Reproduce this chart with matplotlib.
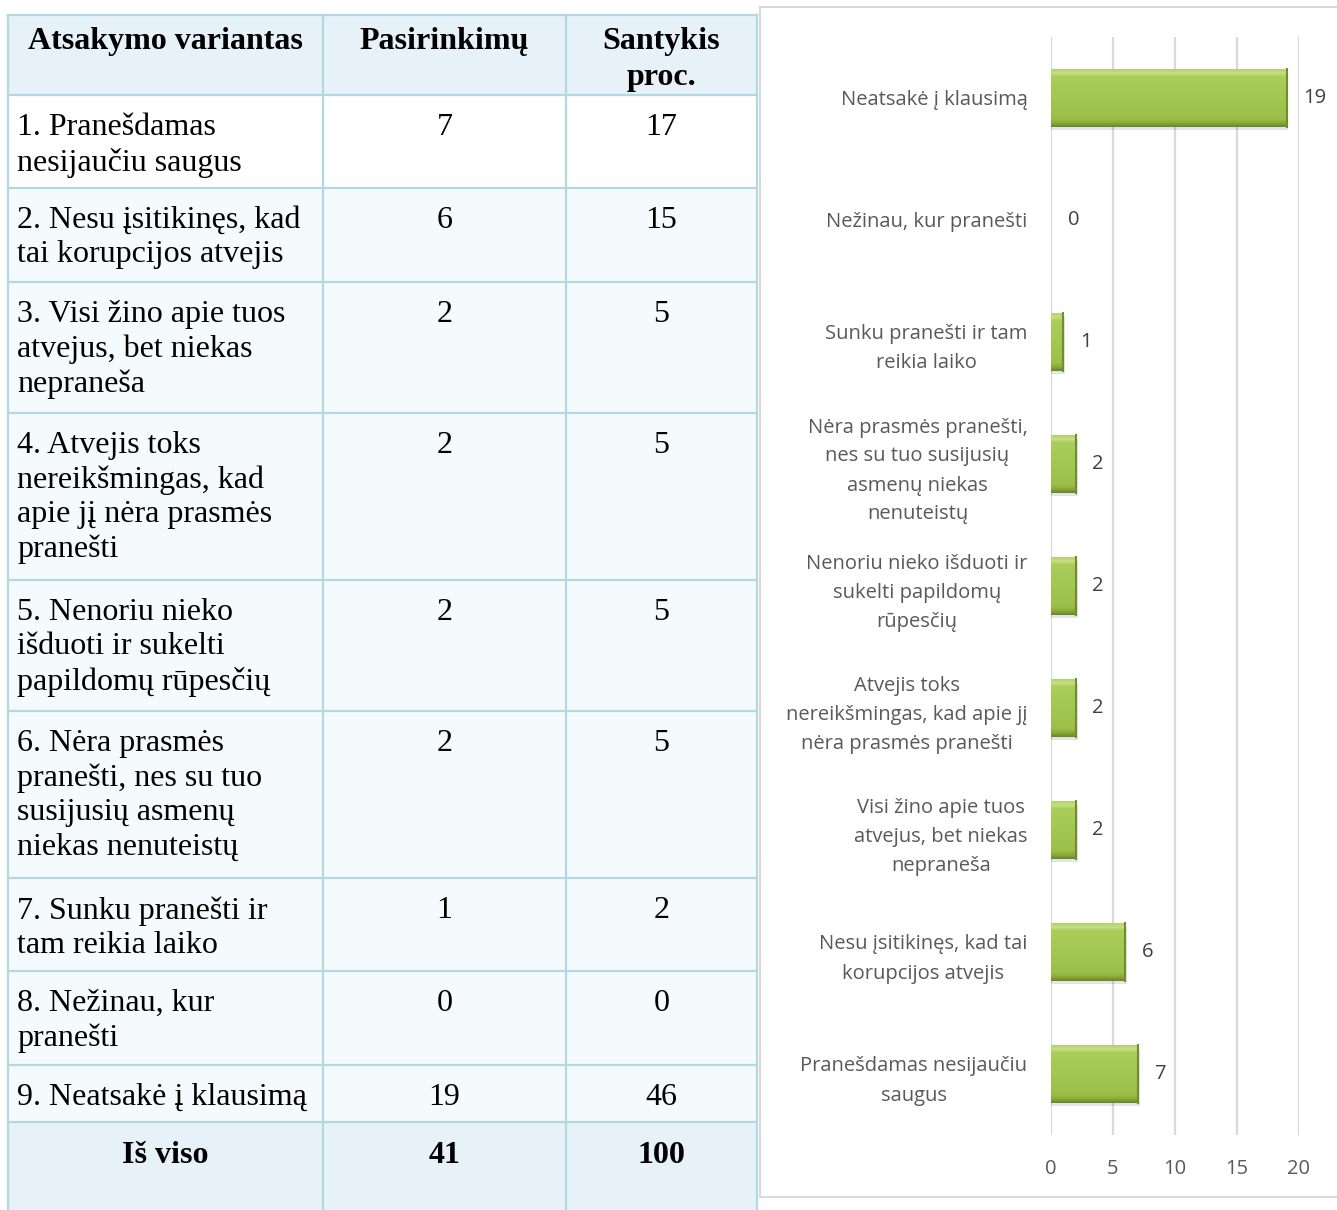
import matplotlib
matplotlib.use("Agg")
from matplotlib import pyplot as plt
from matplotlib.patches import Rectangle
import numpy as np

# duomenys
variantai = ["1. Pranešdamas\nnesijaučiu saugus",
             "2. Nesu įsitikinęs, kad\ntai korupcijos atvejis",
             "3. Visi žino apie tuos\natvejus, bet niekas\nnepraneša",
             "4. Atvejis toks\nnereikšmingas, kad\napie jį nėra prasmės\npranešti",
             "5. Nenoriu nieko\nišduoti ir sukelti\npapildomų rūpesčių",
             "6. Nėra prasmės\npranešti, nes su tuo\nsusijusių asmenų\nniekas nenuteistų",
             "7. Sunku pranešti ir\ntam reikia laiko",
             "8. Nežinau, kur\npranešti",
             "9. Neatsakė į klausimą"]
pasirinkimu = [7, 6, 2, 2, 2, 2, 1, 0, 19]
procentai = [17, 15, 5, 5, 5, 5, 2, 0, 46]
is_viso = ["Iš viso", "41", "100"]
antrastes = ["Atsakymo variantas", "Pasirinkimų", "Santykis\nproc."]

grafiko_etiketes = ["Pranešdamas nesijaučiu\nsaugus",
                    "Nesu įsitikinęs, kad tai\nkorupcijos atvejis",
                    "Visi žino apie tuos\natvejus, bet niekas\nnepraneša",
                    "Atvejis toks\nnereikšmingas, kad apie jį\nnėra prasmės pranešti",
                    "Nenoriu nieko išduoti ir\nsukelti papildomų\nrūpesčių",
                    "Nėra prasmės pranešti,\nnes su tuo susijusių\nasmenų niekas\nnenuteistų",
                    "Sunku pranešti ir tam\nreikia laiko",
                    "Nežinau, kur pranešti",
                    "Neatsakė į klausimą"]
x_ticks = [0, 5, 10, 15, 20]

W, H = 1337, 1210
fig = plt.figure(figsize=(W / 100, H / 100), dpi=100)

# --- lentelė (pikselių koordinatės) ---
tab = fig.add_axes([0, 0, 1, 1])
tab.set_xlim(0, W)
tab.set_ylim(H, 0)
tab.axis("off")

col_x = [8, 323, 566, 757]
row_y = [15, 95, 188, 282, 413, 580, 711, 878, 971, 1065, 1122, 1215]
border = "#B4D8E2"
head_bg = "#E6F2F7"
tint = "#F5FAFC"
serif = "Liberation Serif"
fs = 23
ls = 1.24

for i in range(len(row_y) - 1):
    if i == 0 or i == len(row_y) - 2:
        bg = head_bg
    elif i == 1:
        bg = "white"
    else:
        bg = tint
    tab.add_patch(Rectangle((col_x[0], row_y[i]), col_x[-1] - col_x[0], row_y[i + 1] - row_y[i],
                            facecolor=bg, edgecolor="none"))
for y in row_y:
    tab.plot([col_x[0], col_x[-1]], [y, y], color=border, lw=1.6)
for x in col_x:
    tab.plot([x, x], [row_y[0], row_y[-1]], color=border, lw=1.6)

centers = [(col_x[j] + col_x[j + 1]) / 2 for j in range(3)]

# antraštė
for j, t in enumerate(antrastes):
    tab.text(centers[j], row_y[0] + 12, t, ha="center", va="top", fontsize=fs,
             fontweight="bold", family=serif, linespacing=1.3)

for i, t in enumerate(variantai):
    top = row_y[i + 1] + 18
    tab.text(col_x[0] + 9, top, t, ha="left", va="top", fontsize=fs, family=serif, linespacing=ls)
    tab.text(centers[1], top, str(pasirinkimu[i]), ha="center", va="top", fontsize=fs, family=serif)
    tab.text(centers[2], top, str(procentai[i]), ha="center", va="top", fontsize=fs, family=serif)

for j, t in enumerate(is_viso):
    tab.text(centers[j], row_y[-2] + 19, t, ha="center", va="top", fontsize=fs,
             fontweight="bold", family=serif)

# grafiko rėmelis
tab.add_patch(Rectangle((760, 7), W - 760 + 5, 1190, facecolor="white", edgecolor="#D9D9D9", lw=1.5))

# --- stulpelinė diagrama ---
ax = fig.add_axes([1051 / W, 1 - 1135 / H, 248 / W, 1098 / H])
ax.set_xlim(0, 20)
ax.set_ylim(-0.5, len(pasirinkimu) - 0.5)
ax.patch.set_alpha(0)
for s in ax.spines.values():
    s.set_visible(False)

ax.set_xticks(x_ticks)
ax.grid(axis="x", color="#D9D9D9", lw=1.6)
ax.set_axisbelow(True)

pos = np.arange(len(pasirinkimu))
bars = ax.barh(pos, pasirinkimu, height=0.47, color="#A2C54F", edgecolor="none", zorder=2)

# gradientas juostoms (3D išvaizda): apačia tamsi, viršus šviesus
grad = np.linspace(0, 1, 100).reshape(-1, 1)
cmap = matplotlib.colors.LinearSegmentedColormap.from_list(
    "g", [(0.0, "#6A8828"), (0.07, "#8AAC3A"), (0.14, "#9CBF49"),
          (0.6, "#A6C953"), (0.88, "#ABCD5A"), (0.93, "#C6E086"), (1.0, "#B5D26C")])
for b in bars:
    x0, y0 = b.get_x(), b.get_y()
    w, h = b.get_width(), b.get_height()
    if w <= 0:
        continue
    # šešėlis
    ax.add_patch(Rectangle((x0, y0 - 0.03), w + 0.15, h, facecolor="#000000", alpha=0.10,
                           edgecolor="none", zorder=1.5))
    im = ax.imshow(grad, extent=(x0, x0 + w, y0, y0 + h), origin="lower", cmap=cmap,
                   aspect="auto", zorder=2.5)
    im.set_clip_path(b)
    # tamsesnis dešinys kraštas
    ax.plot([x0 + w, x0 + w], [y0, y0 + h], color="#6F8E2C", lw=1.5, zorder=3)

for b, v in zip(bars, pasirinkimu):
    ax.annotate(str(v), (b.get_width(), b.get_y() + b.get_height() / 2), xytext=(12, 0),
                textcoords="offset points", ha="left", va="center", fontsize=14.5,
                color="#404040", family="Open Sans")

ax.set_yticks(pos)
ax.set_yticklabels(grafiko_etiketes, fontsize=14.5, color="#595959", family="Open Sans",
                   multialignment="center", linespacing=1.6)
ax.tick_params(axis="y", length=0, pad=17)
ax.tick_params(axis="x", length=0, pad=17, labelsize=14.5, labelcolor="#595959")
for lab in ax.get_xticklabels():
    lab.set_family("Open Sans")

fig.savefig("out.png", dpi=100)
